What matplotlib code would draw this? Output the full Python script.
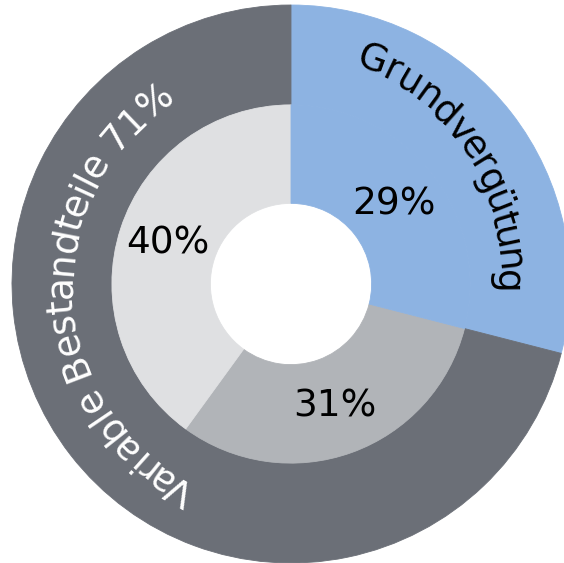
import numpy as np
import matplotlib
matplotlib.use('Agg')
import matplotlib.pyplot as plt
from matplotlib.font_manager import FontProperties

# data
outer_labels = ['Grundvergütung', 'Variable Bestandteile 71%']
outer_values = [29, 71]
inner_values = [29, 31, 40]

outer_colors = ['#8db3e2', '#6b6f77']
inner_colors = ['#8db3e2', '#b1b4b8', '#dfe0e2']

R_OUT = 1.0
R_MID = 0.642
R_HOLE = 0.289
PX_PER_UNIT = 279.0

fig = plt.figure(figsize=(5.64, 5.63), dpi=100)
ax = fig.add_axes([0, 0, 1, 1])

w1, _ = ax.pie(outer_values, radius=R_OUT, colors=outer_colors, startangle=90,
               counterclock=False, wedgeprops=dict(width=R_OUT - R_MID, linewidth=0))
w2, _, _ = ax.pie(inner_values, radius=R_MID, colors=inner_colors, startangle=90,
                  counterclock=False, autopct='%.0f%%',
                  pctdistance=((R_MID + R_HOLE) / 2) / R_MID,
                  textprops=dict(fontsize=27, color='black'),
                  wedgeprops=dict(width=R_MID - R_HOLE, linewidth=0))
# hide the seam between the two blue wedges
for w in w1 + w2:
    w.set_edgecolor(w.get_facecolor())
    w.set_linewidth(0.6)
w2[0].set_zorder(w1[0].get_zorder() + 0.1)

ax.set_xlim(-291 / PX_PER_UNIT, (564 - 291) / PX_PER_UNIT)
ax.set_ylim(-(563 - 284) / PX_PER_UNIT, 284 / PX_PER_UNIT)
ax.set_aspect('equal')
ax.axis('off')

renderer = fig.canvas.get_renderer()


def curved_text(s, first_deg, r_space, r_base0, r_base1, size, color):
    # writes s clockwise along an arc, tops of the letters outward
    fp = FontProperties(family='DejaVu Sans', size=size)
    widths = [0.0]
    for i in range(1, len(s) + 1):
        w, h, d = renderer.get_text_width_height_descent(s[:i], fp, ismath=False)
        widths.append(w)
    centers = [(widths[i] + widths[i + 1]) / 2 for i in range(len(s))]
    span = centers[-1] - centers[0]
    for i, ch in enumerate(s):
        pos = centers[i] - centers[0]
        th = np.radians(first_deg) - pos / r_space
        rb = (r_base0 + (r_base1 - r_base0) * pos / span) / PX_PER_UNIT
        ax.text(rb * np.cos(th), rb * np.sin(th), ch, fontproperties=fp,
                color=color, rotation=np.degrees(th) - 90, rotation_mode='anchor',
                ha='center', va='baseline')


curved_text(outer_labels[0], 70.0, 233, 227, 205, 27, 'black')
curved_text(outer_labels[1], 241.5, 231, 222, 217, 27, 'white')

fig.savefig('out.png', dpi=100)
